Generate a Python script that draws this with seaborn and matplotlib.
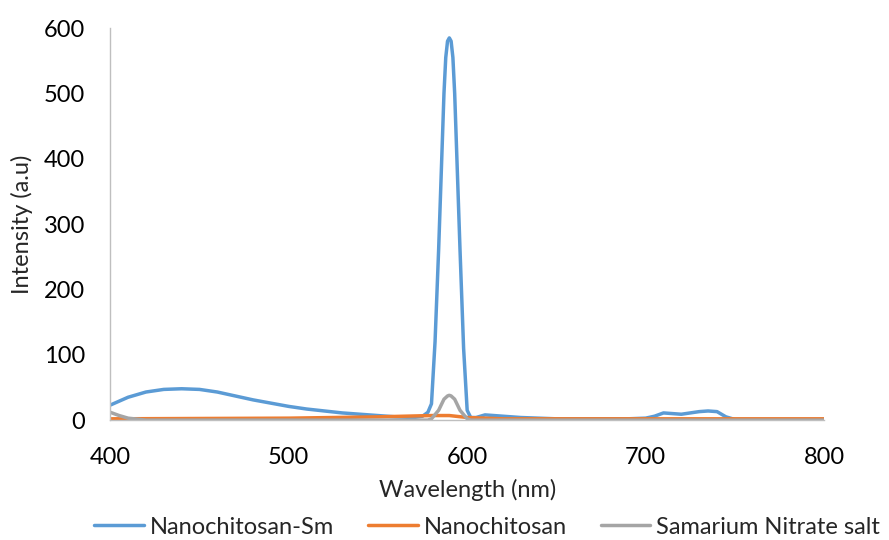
import matplotlib
matplotlib.use("Agg")
import matplotlib.pyplot as plt
import seaborn as sns
import pandas as pd
from matplotlib.lines import Line2D

# --- data ---
sm_x = [400, 410, 420, 430, 440, 450, 460, 470, 480, 490, 500, 510, 520, 530, 540, 550, 560, 570, 575,
        578, 580, 582, 584, 586, 587, 588, 589, 590, 591, 592, 593, 594, 596, 598, 600, 602, 605, 610,
        620, 630, 640, 650, 660, 670, 680, 690, 700, 705, 710, 715, 720, 725, 730, 735, 740, 745, 750,
        760, 770, 780, 790, 800]
sm_y = [23, 35, 43, 47, 48, 47, 43, 37, 31, 26, 21, 17, 14, 11, 9, 7, 5, 4, 6,
        12, 25, 120, 260, 420, 500, 555, 580, 585, 580, 555, 500, 420, 260, 110, 15, 4, 4, 8,
        6, 4, 3, 2, 2, 2, 2, 2, 3, 6, 11, 10, 9, 11, 13, 14, 13, 5, 1,
        1, 1, 1, 1, 1]

nc_x = [400, 450, 500, 550, 580, 590, 600, 620, 650, 700, 750, 800]
nc_y = [2, 2.5, 3, 5, 7, 7, 4, 2, 2, 2, 2, 2]

sn_x = [400, 405, 410, 420, 450, 500, 550, 578, 580, 584, 587, 589, 590, 591, 593, 596, 600, 602,
        650, 700, 750, 800]
sn_y = [12, 7, 3, 0, 0, 0, 0, 0, 2, 15, 32, 37, 38, 37, 32, 15, 2, 0,
        0, 0, 0, 0]

names = ["Nanochitosan-Sm", "Nanochitosan", "Samarium Nitrate salt"]
colors = ["#5B9BD5", "#ED7D31", "#A5A5A5"]
x_ticks = [400, 500, 600, 700, 800]
y_ticks = [0, 100, 200, 300, 400, 500, 600]

frames = []
for n, xs, ys in zip(names, [sm_x, nc_x, sn_x], [sm_y, nc_y, sn_y]):
    frames.append(pd.DataFrame({"Wavelength": xs, "Intensity": ys, "Series": n}))
df = pd.concat(frames, ignore_index=True)

sns.set_theme(style="white")
plt.rcParams["font.family"] = ["Lato", "DejaVu Sans"]

FS = 17
fig = plt.figure(figsize=(8.89, 5.40), dpi=100)
ax = fig.add_axes([0.124, 0.222, 0.803, 0.726])

sns.lineplot(data=df, x="Wavelength", y="Intensity", hue="Series", hue_order=names,
             palette=colors, linewidth=2.5, sort=False, ax=ax, legend=False)

ax.set_xlim(400, 800)
ax.set_ylim(0, 600)
ax.set_xticks(x_ticks)
ax.set_yticks(y_ticks)
ax.tick_params(axis="both", length=0, labelsize=FS, colors="#000000")
ax.tick_params(axis="x", pad=19)
ax.tick_params(axis="y", pad=18)
for s in ["top", "right"]:
    ax.spines[s].set_visible(False)
for s in ["left", "bottom"]:
    ax.spines[s].set_color("#BFBFBF")
    ax.spines[s].set_linewidth(1.0)
ax.set_xlabel("Wavelength (nm)", fontsize=FS, labelpad=8)
ax.set_ylabel("Intensity (a.u)", fontsize=FS, labelpad=8)

handles = [Line2D([0], [0], color=c, lw=2.5) for c in colors]
fig.legend(handles, names, loc="center", bbox_to_anchor=(0.548, 0.024), ncol=3, frameon=False,
           fontsize=FS, handlelength=2.1, handletextpad=0.25, columnspacing=1.45,
           borderaxespad=0, borderpad=0)

fig.savefig("out.png", dpi=100)
